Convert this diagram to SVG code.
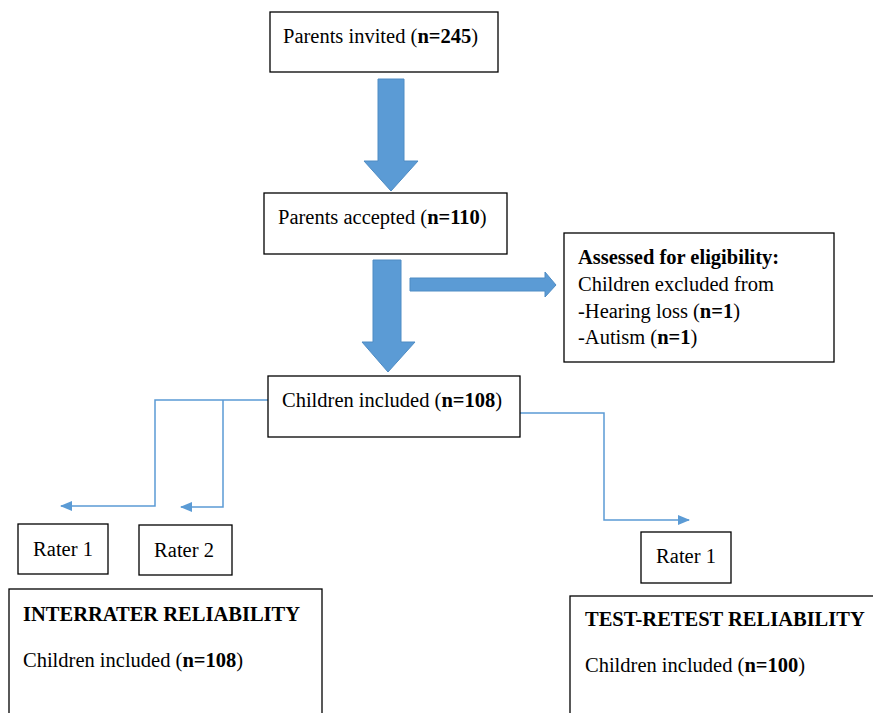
<svg xmlns="http://www.w3.org/2000/svg" width="873" height="713" viewBox="0 0 873 713">
<style>
.box{fill:#fff;stroke:#000;stroke-width:1.3}
.t{font-family:"Liberation Serif","Times New Roman",serif;font-size:20.5px;fill:#000}
.b{font-weight:bold}
.big{fill:#5B9BD5;stroke:#4F8CC4;stroke-width:1}
.con{fill:none;stroke:#5B9BD5;stroke-width:1.5}
</style>
<defs>
<marker id="ah" markerWidth="12" markerHeight="10" refX="11" refY="5" orient="auto" markerUnits="userSpaceOnUse">
<path d="M0,0 L12,5 L0,10 Z" fill="#5B9BD5"/>
</marker>
</defs>
<rect width="873" height="713" fill="#fff"/>
<g id="connectors">
<polygon class="big" points="378,79 404,79 404,161 418,161 391,191 364,161 378,161"/>
<polygon class="big" points="373,260 401,260 401,342 415,342 388,372 362,342 373,342"/>
<polygon class="big" points="410,278 545,278 545,272 556,285 545,297 545,291 410,291"/>
<polyline class="con" points="268,400 155,400 155,506 61,506" marker-end="url(#ah)"/>
<polyline class="con" points="223,400 223,507 181,507" marker-end="url(#ah)"/>
<polyline class="con" points="520,413 604,413 604,520 689,520" marker-end="url(#ah)"/>
</g>
<g id="n1">
<rect class="box" x="270" y="12" width="228" height="60"/>
<text class="t" x="283" y="43">Parents invited (<tspan class="b">n=245</tspan>)</text>
</g>
<g id="n2">
<rect class="box" x="264" y="193" width="243" height="61"/>
<text class="t" x="278" y="224">Parents accepted (<tspan class="b">n=110</tspan>)</text>
</g>
<g id="n3">
<rect class="box" x="564" y="233" width="270" height="129"/>
<text class="t" x="578" y="264"><tspan class="b">Assessed for eligibility:</tspan></text>
<text class="t" x="578" y="291">Children excluded from</text>
<text class="t" x="578" y="318">-Hearing loss (<tspan class="b">n=1</tspan>)</text>
<text class="t" x="578" y="344">-Autism (<tspan class="b">n=1</tspan>)</text>
</g>
<g id="n4">
<rect class="box" x="268" y="376" width="252" height="61"/>
<text class="t" x="282" y="407">Children included (<tspan class="b">n=108</tspan>)</text>
</g>
<g id="n5">
<rect class="box" x="18" y="524" width="90" height="50"/>
<text class="t" x="63" y="556" text-anchor="middle">Rater 1</text>
</g>
<g id="n6">
<rect class="box" x="139" y="525" width="93" height="50"/>
<text class="t" x="184" y="557" text-anchor="middle">Rater 2</text>
</g>
<g id="n7">
<rect class="box" x="641" y="532" width="90" height="51"/>
<text class="t" x="686" y="563" text-anchor="middle">Rater 1</text>
</g>
<g id="n8">
<rect class="box" x="9" y="589" width="313" height="140"/>
<text class="t" x="23" y="621"><tspan class="b">INTERRATER RELIABILITY</tspan></text>
<text class="t" x="23" y="667">Children included (<tspan class="b">n=108</tspan>)</text>
</g>
<g id="n9">
<rect class="box" x="570" y="596" width="320" height="140"/>
<text class="t" x="585" y="626"><tspan class="b">TEST-RETEST RELIABILITY</tspan></text>
<text class="t" x="585" y="672">Children included (<tspan class="b">n=100</tspan>)</text>
</g>
</svg>
